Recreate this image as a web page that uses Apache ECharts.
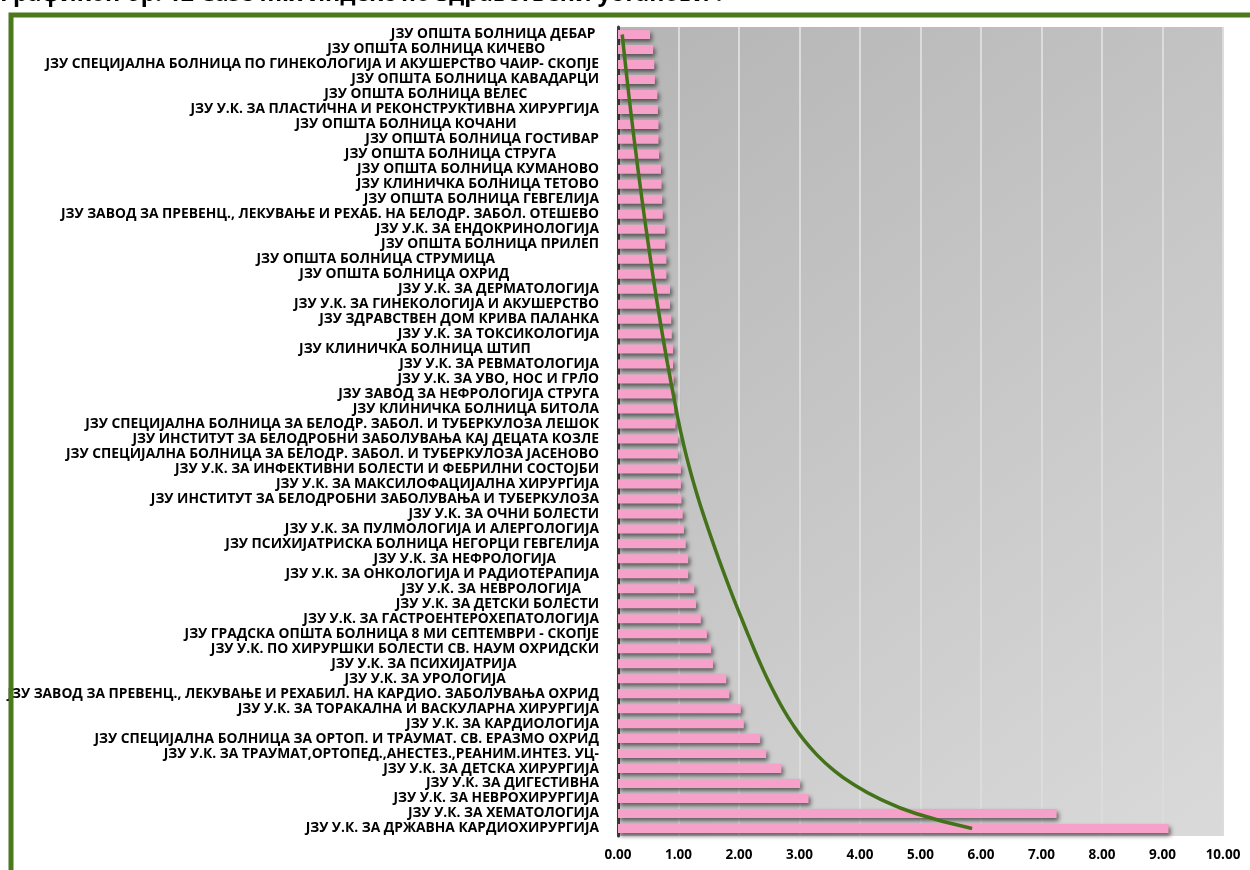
<!DOCTYPE html>
<html>
<head>
<meta charset="utf-8">
<script src="https://cdn.jsdelivr.net/npm/echarts@6/dist/echarts.min.js"></script>
<style>
  html, body { margin: 0; padding: 0; background: #ffffff; }
  #chart { width: 1250px; height: 870px; }
</style>
</head>
<body>
<div id="chart"></div>
<script>
// Health institutions, ordered from the lowest to the highest case mix index
const categories = [
  'ЈЗУ ОПШТА БОЛНИЦА ДЕБАР ',
  'ЈЗУ ОПШТА БОЛНИЦА КИЧЕВО               ',
  'ЈЗУ СПЕЦИЈАЛНА БОЛНИЦА ПО ГИНЕКОЛОГИЈА И АКУШЕРСТВО ЧАИР- СКОПЈЕ',
  'ЈЗУ ОПШТА БОЛНИЦА КАВАДАРЦИ',
  'ЈЗУ ОПШТА БОЛНИЦА ВЕЛЕС                    ',
  'ЈЗУ У.К. ЗА ПЛАСТИЧНА И РЕКОНСТРУКТИВНА ХИРУРГИЈА',
  'ЈЗУ ОПШТА БОЛНИЦА КОЧАНИ                       ',
  'ЈЗУ ОПШТА БОЛНИЦА ГОСТИВАР',
  'ЈЗУ ОПШТА БОЛНИЦА СТРУГА            ',
  'ЈЗУ ОПШТА БОЛНИЦА КУМАНОВО',
  'ЈЗУ КЛИНИЧКА БОЛНИЦА ТЕТОВО',
  'ЈЗУ ОПШТА БОЛНИЦА ГЕВГЕЛИЈА',
  'ЈЗУ ЗАВОД ЗА ПРЕВЕНЦ., ЛЕКУВАЊЕ И РЕХАБ. НА БЕЛОДР. ЗАБОЛ. ОТЕШЕВО',
  'ЈЗУ У.К. ЗА ЕНДОКРИНОЛОГИЈА',
  'ЈЗУ ОПШТА БОЛНИЦА ПРИЛЕП',
  'ЈЗУ ОПШТА БОЛНИЦА СТРУМИЦА                             ',
  'ЈЗУ ОПШТА БОЛНИЦА ОХРИД                         ',
  'ЈЗУ У.К. ЗА ДЕРМАТОЛОГИЈА',
  'ЈЗУ У.К. ЗА ГИНЕКОЛОГИЈА И АКУШЕРСТВО',
  'ЈЗУ ЗДРАВСТВЕН ДОМ КРИВА ПАЛАНКА',
  'ЈЗУ У.К. ЗА ТОКСИКОЛОГИЈА',
  'ЈЗУ КЛИНИЧКА БОЛНИЦА ШТИП                   ',
  'ЈЗУ У.К. ЗА РЕВМАТОЛОГИЈА',
  'ЈЗУ У.К. ЗА УВО, НОС И ГРЛО',
  'ЈЗУ ЗАВОД ЗА НЕФРОЛОГИЈА СТРУГА',
  'ЈЗУ КЛИНИЧКА БОЛНИЦА БИТОЛА',
  'ЈЗУ СПЕЦИЈАЛНА БОЛНИЦА ЗА БЕЛОДР. ЗАБОЛ. И ТУБЕРКУЛОЗА ЛЕШОК',
  'ЈЗУ ИНСТИТУТ ЗА БЕЛОДРОБНИ ЗАБОЛУВАЊА КАЈ ДЕЦАТА КОЗЛЕ',
  'ЈЗУ СПЕЦИЈАЛНА БОЛНИЦА ЗА БЕЛОДР. ЗАБОЛ. И ТУБЕРКУЛОЗА ЈАСЕНОВО',
  'ЈЗУ У.К. ЗА ИНФЕКТИВНИ БОЛЕСТИ И ФЕБРИЛНИ СОСТОЈБИ',
  'ЈЗУ У.К. ЗА МАКСИЛОФАЦИЈАЛНА ХИРУРГИЈА',
  'ЈЗУ ИНСТИТУТ ЗА БЕЛОДРОБНИ ЗАБОЛУВАЊА И ТУБЕРКУЛОЗА',
  'ЈЗУ У.К. ЗА ОЧНИ БОЛЕСТИ',
  'ЈЗУ У.К. ЗА ПУЛМОЛОГИЈА И АЛЕРГОЛОГИЈА',
  'ЈЗУ ПСИХИЈАТРИСКА БОЛНИЦА НЕГОРЦИ ГЕВГЕЛИЈА',
  'ЈЗУ У.К. ЗА НЕФРОЛОГИЈА            ',
  'ЈЗУ У.К. ЗА ОНКОЛОГИЈА И РАДИОТЕРАПИЈА',
  'ЈЗУ У.К. ЗА НЕВРОЛОГИЈА     ',
  'ЈЗУ У.К. ЗА ДЕТСКИ БОЛЕСТИ',
  'ЈЗУ У.К. ЗА ГАСТРОЕНТЕРОХЕПАТОЛОГИЈА',
  'ЈЗУ ГРАДСКА ОПШТА БОЛНИЦА 8 МИ СЕПТЕМВРИ - СКОПЈЕ',
  'ЈЗУ У.К. ПО ХИРУРШКИ БОЛЕСТИ СВ. НАУМ ОХРИДСКИ',
  'ЈЗУ У.К. ЗА ПСИХИЈАТРИЈА                       ',
  'ЈЗУ У.К. ЗА УРОЛОГИЈА                          ',
  'ЈЗУ ЗАВОД ЗА ПРЕВЕНЦ., ЛЕКУВАЊЕ И РЕХАБИЛ. НА КАРДИО. ЗАБОЛУВАЊА ОХРИД',
  'ЈЗУ У.К. ЗА ТОРАКАЛНА И ВАСКУЛАРНА ХИРУРГИЈА',
  'ЈЗУ У.К. ЗА КАРДИОЛОГИЈА',
  'ЈЗУ СПЕЦИЈАЛНА БОЛНИЦА ЗА ОРТОП. И ТРАУМАТ. СВ. ЕРАЗМО ОХРИД',
  'ЈЗУ У.К. ЗА ТРАУМАТ,ОРТОПЕД.,АНЕСТЕЗ.,РЕАНИМ.ИНТЕЗ. УЦ-',
  'ЈЗУ У.К. ЗА ДЕТСКА ХИРУРГИЈА',
  'ЈЗУ У.К. ЗА ДИГЕСТИВНА',
  'ЈЗУ У.К. ЗА НЕВРОХИРУРГИЈА',
  'ЈЗУ У.К. ЗА ХЕМАТОЛОГИЈА',
  'ЈЗУ У.К. ЗА ДРЖАВНА КАРДИОХИРУРГИЈА'
];

// Case mix index per institution
const caseMix = [
  0.53, 0.58, 0.60, 0.61, 0.65, 0.66, 0.67, 0.67, 0.68, 0.71,
  0.72, 0.73, 0.74, 0.78, 0.78, 0.80, 0.80, 0.86, 0.86, 0.88,
  0.89, 0.91, 0.91, 0.92, 0.93, 0.93, 0.95, 0.99, 0.99, 1.04,
  1.04, 1.05, 1.07, 1.09, 1.12, 1.16, 1.16, 1.26, 1.29, 1.37,
  1.47, 1.54, 1.57, 1.79, 1.84, 2.03, 2.08, 2.35, 2.45, 2.70,
  3.01, 3.15, 7.25, 9.10
];

// Trend curve value at each institution's row
const trendValues = [
  0.070, 0.096, 0.123, 0.150, 0.178, 0.207, 0.237, 0.267, 0.299, 0.330,
  0.363, 0.396, 0.430, 0.465, 0.501, 0.537, 0.574, 0.612, 0.651, 0.692,
  0.733, 0.776, 0.820, 0.866, 0.912, 0.960, 1.009, 1.063, 1.122, 1.186,
  1.255, 1.329, 1.408, 1.491, 1.577, 1.665, 1.756, 1.849, 1.945, 2.044,
  2.144, 2.247, 2.354, 2.468, 2.591, 2.726, 2.879, 3.056, 3.269, 3.533,
  3.871, 4.317, 4.923, 5.853
];

const titleText = 'Графикон бр. 12 Case mix индекс по здравствени установи :';

const FONT = '"Open Sans", "Noto Sans", sans-serif';
const chart = echarts.init(document.getElementById('chart'), null, { renderer: 'canvas' });

const plotFill = new echarts.graphic.LinearGradient(0, 0, 1, 1, [
  { offset: 0, color: '#b5b5b5' },
  { offset: 1, color: '#dadada' }
]);

chart.setOption({
  animation: false,
  backgroundColor: '#ffffff',
  grid: {
    left: 618, right: 27, top: 27, height: 809,
    show: true, backgroundColor: plotFill, borderWidth: 0
  },
  xAxis: {
    type: 'value', min: 0, max: 10, interval: 1,
    axisLine: { show: false },
    axisTick: { show: false },
    splitLine: { show: true, lineStyle: { color: '#dcdcdc', width: 2 } },
    axisLabel: {
      formatter: v => v.toFixed(2),
      fontFamily: FONT, fontWeight: 'bold', fontSize: 13.5, color: '#000',
      margin: 12
    }
  },
  yAxis: {
    type: 'category', data: categories, inverse: true,
    axisLine: { show: true, lineStyle: { color: '#3c3c3c', width: 3 } },
    axisTick: { show: false },
    splitLine: { show: false },
    axisLabel: {
      interval: 0, fontFamily: FONT, fontWeight: 'bold', fontSize: 13.8,
      color: '#000', margin: 19
    }
  },
  series: [
    {
      type: 'bar', data: caseMix, barWidth: 9,
      itemStyle: {
        color: '#f6a1c9',
        shadowColor: 'rgba(0,0,0,0.55)', shadowBlur: 4,
        shadowOffsetX: 2, shadowOffsetY: 3
      }
    },
    {
      type: 'line',
      data: trendValues.map((v, i) => [v, categories[i]]),
      smooth: 0.5, symbol: 'none', z: 4,
      lineStyle: { color: '#44721a', width: 3.5 }
    }
  ],
  graphic: [
    {
      type: 'text', left: 0, top: -17, z: 10,
      style: { text: titleText, font: 'bold 23px ' + FONT, fill: '#000' }
    },
    {
      type: 'rect', z: 20, silent: true,
      shape: { x: 11, y: 15, width: 1400, height: 1000 },
      style: { fill: 'none', stroke: '#4a7a1c', lineWidth: 5 }
    }
  ]
});
</script>
</body>
</html>
